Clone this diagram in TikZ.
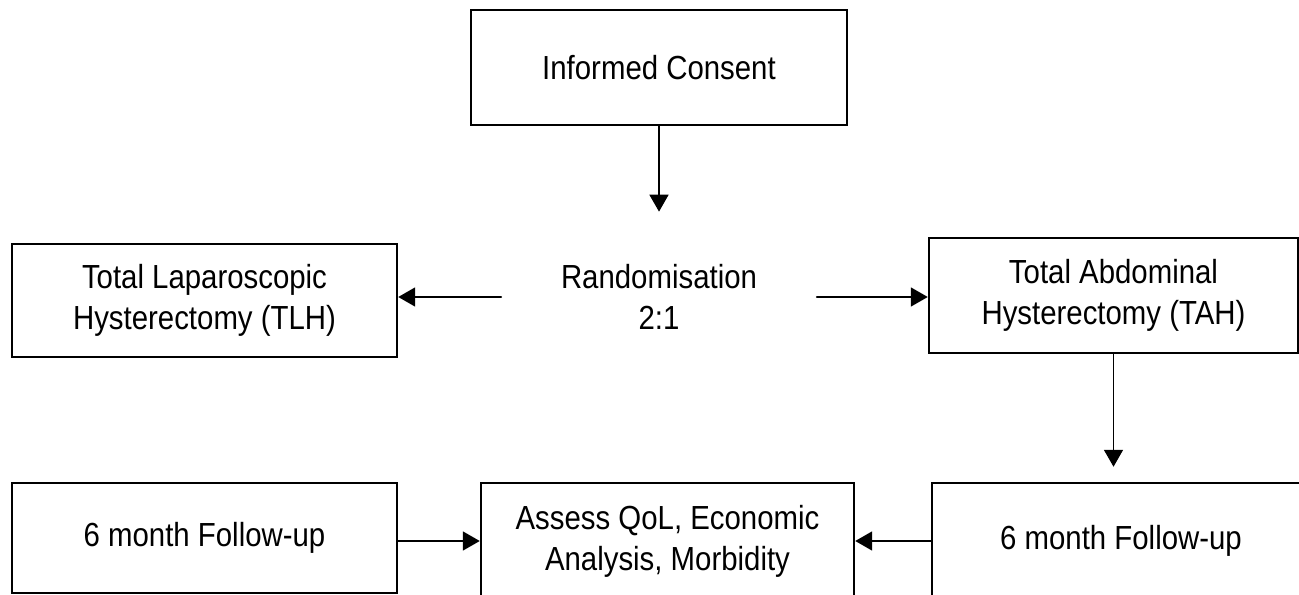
\documentclass[tikz,border=0pt]{standalone}
\usepackage{fontspec}
\setmainfont{Liberation Sans}[FakeStretch=0.88]
\usetikzlibrary{arrows.meta, positioning}

\begin{document}
\begin{tikzpicture}[line cap=round,
        box/.style={draw, line width=1.4pt, align=center, inner sep=0pt},
        arr/.style={-{Triangle[length=0.34cm, width=0.38cm]}, line width=1pt},
        font=\fontsize{19}{23.3}\selectfont]
        \useasboundingbox (0,0) rectangle (25.98,-11.9);
        %\draw [step=1, very thin, lightgray] (0,-11.9) grid (25.98,0);

        \node[box, minimum width=7.52cm, minimum height=2.3cm] (consent) at (13.18,-1.35) {Informed Consent};
        \node[align=center, minimum width=6.3cm, minimum height=3.4cm, inner sep=0pt] (rand) at (13.18,-5.94) {Randomisation\\2:1};
        \node[box, minimum width=7.7cm, minimum height=2.26cm] (tlh) at (4.09,-6.01) {Total Laparoscopic\\Hysterectomy (TLH)};
        \node[box, minimum width=7.38cm, minimum height=2.3cm] (tah) at (22.27,-5.91) {Total Abdominal\\Hysterectomy (TAH)};
        \node[box, minimum width=7.7cm, minimum height=2.2cm] (fuleft) at (4.09,-10.76) {6 month Follow-up};
        \node[box, minimum width=7.46cm, minimum height=2.32cm] (assess) at (13.35,-10.82) {Assess QoL, Economic\\Analysis, Morbidity};
        \node[box, minimum width=7.56cm, minimum height=2.32cm] (furight) at (22.42,-10.82) {6 month Follow-up};

        \draw[arr] (consent.south) -- (rand.north);
        \draw[arr] (rand.west) -- (rand.west -| tlh.east);
        \draw[arr] (rand.east) -- (rand.east -| tah.west);
        \draw[arr, shorten >=0.3cm] (tah.south) -- (tah.south |- furight.north);
        \draw[arr] (fuleft.east |- assess.west) -- (assess.west);
        \draw[arr] (furight.west) -- (assess.east);
    \end{tikzpicture}
\end{document}
